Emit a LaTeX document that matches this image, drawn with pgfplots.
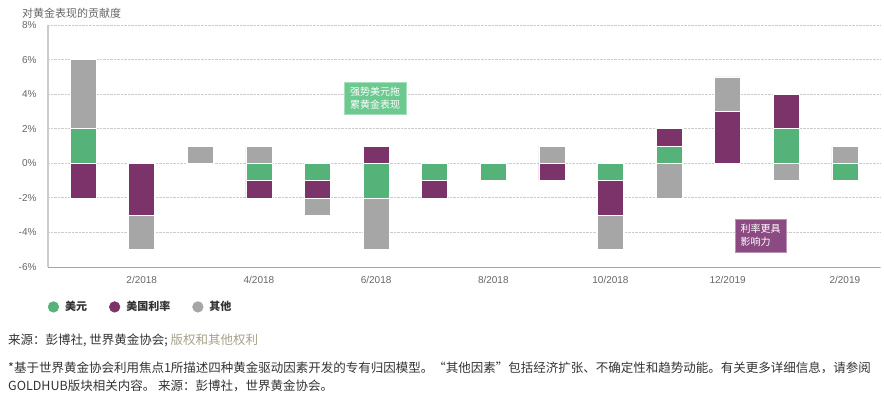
\documentclass[border=0pt]{standalone}
\usepackage{fontspec}
\setmainfont{Liberation Sans}
\newfontfamily\cjk{Noto Sans CJK SC}
\usepackage{pgfplots}
\pgfplotsset{compat=1.18}
\usepackage{pgfplotstable}
\definecolor{cgreen}{HTML}{55B279}
\definecolor{cpurple}{HTML}{7B3369}
\definecolor{cgray}{HTML}{A6A6A6}
\definecolor{tickc}{HTML}{666666}
\definecolor{gridc}{HTML}{CCCCCC}
\definecolor{boxgreen}{HTML}{6CC990}
\definecolor{boxpurple}{HTML}{8C4A82}
\definecolor{srcc}{HTML}{A89F8A}
\definecolor{textc}{HTML}{333333}

% positive contributions (green = USD, purple = US rates, gray = other)
\pgfplotstableread{
m g p a
1 2 0 4
2 0 0 0
3 0 0 1
4 0 0 1
5 0 0 0
6 0 1 0
7 0 0 0
8 0 0 0
9 0 0 1
10 0 0 0
11 1 1 0
12 0 3 2
13 2 2 0
14 0 0 1
}\postab
% negative contributions
\pgfplotstableread{
m g p a
1 0 -2 0
2 0 -3 -2
3 0 0 0
4 -1 -1 0
5 -1 -1 -1
6 -2 0 -3
7 -1 -1 0
8 -1 0 0
9 0 -1 0
10 -1 -2 -2
11 0 0 -2
12 0 0 0
13 0 0 -1
14 -1 0 0
}\negtab

\pgfplotsset{
  base/.style={
    scale only axis, width=832pt, height=242pt,
    at={(48pt,-267pt)}, anchor=south west,
    xmin=0.4, xmax=14.6, ymin=-6, ymax=8,
    ybar stacked, bar width=26pt,
  },
  barstyle/.style={fill=#1, draw=white, line width=0.6pt},
}

\begin{document}
\begin{tikzpicture}
\path[use as bounding box] (0,0) rectangle (884pt,-396pt);

\begin{axis}[base,
  axis x line*=bottom, axis y line*=left,
  x axis line style={-, draw=cgray, line width=0.8pt},
  y axis line style={-, draw=gridc, line width=1.6pt},
  ymajorgrids, grid style={densely dotted, gridc, line width=0.8pt},
  major tick length=0pt,
  ytick={-6,-4,...,8},
  yticklabel={\pgfmathprintnumber{\tick}\%},
  xtick={2,4,...,14},
  xticklabels={2/2018,4/2018,6/2018,8/2018,10/2018,12/2019,2/2019},
  /pgf/number format/assume math mode=true,
  tick label style={font=\fontsize{10}{12}\selectfont, text=tickc},
  yticklabel style={xshift=-8pt},
  xticklabel style={yshift=-6pt},
  legend style={draw=none, fill=none, at={(axis description cs:-0.004,-0.165)}, anchor=west,
    legend columns=3, font=\cjk\bfseries\fontsize{11}{13}\selectfont, text=textc,
    /tikz/every odd column/.append style={column sep=4pt},
    /tikz/every even column/.append style={column sep=20pt}},
]
\addplot[barstyle=cgreen, legend image code/.code={\fill[cgreen] (0pt,0pt) circle (5.3pt);}] table[x=m,y=g]{\postab};
\addlegendentry{美元}
\addplot[barstyle=cpurple, legend image code/.code={\fill[cpurple] (0pt,0pt) circle (5.3pt);}] table[x=m,y=p]{\postab};
\addlegendentry{美国利率}
\addplot[barstyle=cgray, legend image code/.code={\fill[cgray] (0pt,0pt) circle (5.3pt);}] table[x=m,y=a]{\postab};
\addlegendentry{其他}
\end{axis}

\begin{axis}[base, hide axis]
\addplot[barstyle=cgreen] table[x=m,y=g]{\negtab};
\addplot[barstyle=cpurple] table[x=m,y=p]{\negtab};
\addplot[barstyle=cgray] table[x=m,y=a]{\negtab};
\end{axis}

% title
\node[anchor=west, inner sep=0, font=\cjk\fontsize{11}{13}\selectfont, text=tickc] at (22pt,-13pt) {对黄金表现的贡献度};

% annotation boxes
\node[fill=boxgreen, draw=boxgreen!60!white, line width=0.6pt, text=white, align=left,
  font=\cjk\fontsize{10}{13}\selectfont, minimum width=62pt, minimum height=32pt, inner sep=2pt]
  at (375pt,-98pt) {强势美元拖\\累黄金表现};
\node[fill=boxpurple, draw=boxpurple!60!white, line width=0.6pt, text=white, align=left,
  font=\cjk\fontsize{10}{13}\selectfont, minimum width=51pt, minimum height=33pt, inner sep=2pt]
  at (760.5pt,-235.5pt) {利率更具\\影响力\phantom{具}};

% source and footnote
\node[anchor=west, inner sep=0, font=\cjk\fontsize{12.5}{15}\selectfont, text=textc] at (8pt,-340pt)
  {来源：彭博社, 世界黄金协会; \textcolor{srcc}{版权和其他权利}};
\node[anchor=west, inner sep=0, font=\cjk\fontsize{12.5}{15}\selectfont, text=textc] at (8pt,-368pt)
  {*基于世界黄金协会利用焦点1所描述四种黄金驱动因素开发的专有归因模型。“其他因素”包括经济扩张、不确定性和趋势动能。有关更多详细信息，请参阅};
\node[anchor=west, inner sep=0, font=\cjk\fontsize{12.5}{15}\selectfont, text=textc] at (8pt,-386pt)
  {GOLDHUB版块相关内容。 来源：彭博社，世界黄金协会。};
\end{tikzpicture}
\end{document}
